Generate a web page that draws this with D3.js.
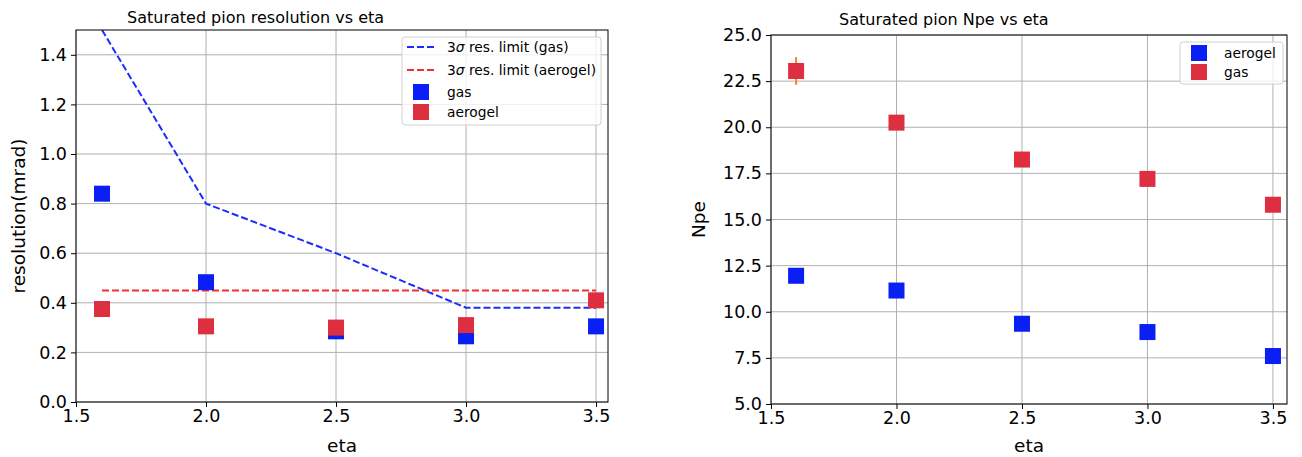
<!DOCTYPE html>
<html>
<head>
<meta charset="utf-8">
<script src="https://cdn.jsdelivr.net/npm/d3@7"></script>
<style>
  body { margin: 0; background: #fff; }
  text { font-family: "DejaVu Sans", sans-serif; fill: #000; }
</style>
</head>
<body>
<script>
// values
var eta = [1.6, 2.0, 2.5, 3.0, 3.5];
var resGas = [0.84, 0.483, 0.285, 0.265, 0.305];
var resAerogel = [0.375, 0.305, 0.30, 0.31, 0.41];
var limitGas = [1.5, 0.8, 0.6, 0.38, 0.38];
var limitAerogel = [0.45, 0.45, 0.45, 0.45, 0.45];
var npeAerogel = [11.95, 11.15, 9.35, 8.9, 7.6];
var npeGas = [23.05, 20.25, 18.25, 17.2, 15.8];
var npeGasErr = [0.75, 0.2, 0.2, 0.2, 0.2];
var xTicks = [1.5, 2.0, 2.5, 3.0, 3.5];
var resTicks = [0, 0.2, 0.4, 0.6, 0.8, 1.0, 1.2, 1.4];
var npeTicks = [5, 7.5, 10, 12.5, 15, 17.5, 20, 22.5, 25];

var BLUE = '#0a1ff5', RED = '#dd2f3f';
var LBLUE = '#1a2cff', LRED = '#f23030';

var svg = d3.select('body').append('svg')
  .attr('width', 1302).attr('height', 457);
svg.append('rect').attr('width', 1302).attr('height', 457).attr('fill', '#fff');

function panel(opt) {
  var x = d3.scaleLinear().domain([1.5, opt.xmax]).range([opt.left, opt.right]);
  var y = d3.scaleLinear().domain(opt.ydom).range([opt.bottom, opt.top]);
  var g = svg.append('g');

  g.append('defs').append('clipPath').attr('id', opt.id)
    .append('rect')
    .attr('x', opt.left).attr('y', opt.top)
    .attr('width', opt.right - opt.left).attr('height', opt.bottom - opt.top);

  // grid
  var grid = g.append('g').attr('stroke', '#b0b0b0').attr('stroke-width', 1);
  grid.selectAll('.gx').data(xTicks).enter().append('line')
    .attr('x1', d => x(d)).attr('x2', d => x(d))
    .attr('y1', opt.top).attr('y2', opt.bottom);
  grid.selectAll('.gy').data(opt.yticks).enter().append('line')
    .attr('x1', opt.left).attr('x2', opt.right)
    .attr('y1', d => y(d)).attr('y2', d => y(d));

  var xAxis = d3.axisBottom(x).tickValues(xTicks).tickFormat(d3.format('.1f'))
    .tickSizeInner(5).tickSizeOuter(0).tickPadding(3);
  var yAxis = d3.axisLeft(y).tickValues(opt.yticks).tickFormat(d3.format('.1f'))
    .tickSizeInner(5).tickSizeOuter(0).tickPadding(4);

  var ax = g.append('g').attr('transform', 'translate(0,' + opt.bottom + ')').call(xAxis);
  var ay = g.append('g').attr('transform', 'translate(' + opt.left + ',0)').call(yAxis);
  [ax, ay].forEach(function (a) {
    a.select('.domain').remove();
    a.selectAll('text').style('font-size', '17.5px').style('font-family', '"DejaVu Sans", sans-serif');
    a.selectAll('line').attr('stroke', '#000');
  });

  var plot = g.append('g').attr('clip-path', 'url(#' + opt.id + ')');

  // frame
  g.append('rect')
    .attr('x', opt.left).attr('y', opt.top)
    .attr('width', opt.right - opt.left).attr('height', opt.bottom - opt.top)
    .attr('fill', 'none').attr('stroke', '#000').attr('stroke-width', 1);

  g.append('text').attr('x', opt.titleX).attr('y', opt.titleY)
    .style('font-size', '16px').text(opt.title);
  g.append('text').attr('x', (opt.left + opt.right) / 2).attr('y', 452)
    .attr('text-anchor', 'middle').style('font-size', '18.5px').text('eta');
  g.append('text')
    .attr('transform', 'translate(' + opt.ylabX + ',' + (opt.top + opt.bottom) / 2 + ') rotate(-90)')
    .attr('text-anchor', 'middle').style('font-size', '18.5px').text(opt.ylabel);

  return { x: x, y: y, g: g, plot: plot };
}

function squares(p, xs, ys, color) {
  p.plot.append('g').selectAll('rect').data(xs).enter().append('rect')
    .attr('x', (d, i) => p.x(d) - 8).attr('y', (d, i) => p.y(ys[i]) - 8)
    .attr('width', 16).attr('height', 16).attr('fill', color);
}

function legend(p, x0, y0, w, h, items) {
  var lg = p.g.append('g');
  lg.append('rect').attr('x', x0).attr('y', y0).attr('width', w).attr('height', h)
    .attr('rx', 3).attr('fill', '#fff').attr('fill-opacity', 0.8)
    .attr('stroke', '#d0d0d0').attr('stroke-width', 1);
  items.forEach(function (it, i) {
    var cy = it.y;
    if (it.type === 'line') {
      lg.append('line').attr('x1', x0 + 5).attr('x2', x0 + 33)
        .attr('y1', cy).attr('y2', cy)
        .attr('stroke', it.color).attr('stroke-width', 2).attr('stroke-dasharray', '7,3');
    } else {
      lg.append('rect').attr('x', x0 + it.mx - 8).attr('y', cy - 8)
        .attr('width', 16).attr('height', 16).attr('fill', it.color);
    }
    var t = lg.append('text').attr('x', x0 + it.tx).attr('y', cy + 5).style('font-size', '13.8px');
    if (it.sigma) {
      t.append('tspan').text('3');
      t.append('tspan').style('font-style', 'italic').text('σ');
      t.append('tspan').text(it.label);
    } else {
      t.text(it.label);
    }
  });
}

// left: resolution
var L = panel({
  id: 'clipL', left: 76, right: 608, top: 30, bottom: 402,
  xmax: 3.546, ydom: [0, 1.5], yticks: resTicks,
  title: 'Saturated pion resolution vs eta', titleX: 127, titleY: 23,
  ylabel: 'resolution(mrad)', ylabX: 25
});
var lineL = d3.line().x((d, i) => L.x(eta[i])).y(d => L.y(d));
L.plot.append('path').datum(limitGas).attr('d', lineL)
  .attr('fill', 'none').attr('stroke', LBLUE).attr('stroke-width', 2).attr('stroke-dasharray', '7,3');
L.plot.append('path').datum(limitAerogel).attr('d', lineL)
  .attr('fill', 'none').attr('stroke', LRED).attr('stroke-width', 2).attr('stroke-dasharray', '7,3');
squares(L, eta, resGas, BLUE);
squares(L, eta, resAerogel, RED);
legend(L, 402, 37, 199, 88, [
  { type: 'line', color: LBLUE, y: 47, tx: 45, sigma: true, label: ' res. limit (gas)' },
  { type: 'line', color: LRED, y: 70, tx: 45, sigma: true, label: ' res. limit (aerogel)' },
  { type: 'sq', color: BLUE, y: 92, mx: 19, tx: 45, label: 'gas' },
  { type: 'sq', color: RED, y: 112, mx: 19, tx: 45, label: 'aerogel' }
]);

// right: Npe
var R = panel({
  id: 'clipR', left: 771, right: 1287, top: 35, bottom: 404,
  xmax: 3.556, ydom: [5, 25], yticks: npeTicks,
  title: 'Saturated pion Npe vs eta', titleX: 839, titleY: 25,
  ylabel: 'Npe', ylabX: 705
});
R.plot.append('g').selectAll('line').data(eta).enter().append('line')
  .attr('x1', d => R.x(d)).attr('x2', d => R.x(d))
  .attr('y1', (d, i) => R.y(npeGas[i] - npeGasErr[i]))
  .attr('y2', (d, i) => R.y(npeGas[i] + npeGasErr[i]))
  .attr('stroke', '#f5822a').attr('stroke-width', 2);
squares(R, eta, npeAerogel, BLUE);
squares(R, eta, npeGas, RED);
legend(R, 1180, 42, 103, 42, [
  { type: 'sq', color: BLUE, y: 53, mx: 19, tx: 44, label: 'aerogel' },
  { type: 'sq', color: RED, y: 72, mx: 19, tx: 44, label: 'gas' }
]);
</script>
</body>
</html>
